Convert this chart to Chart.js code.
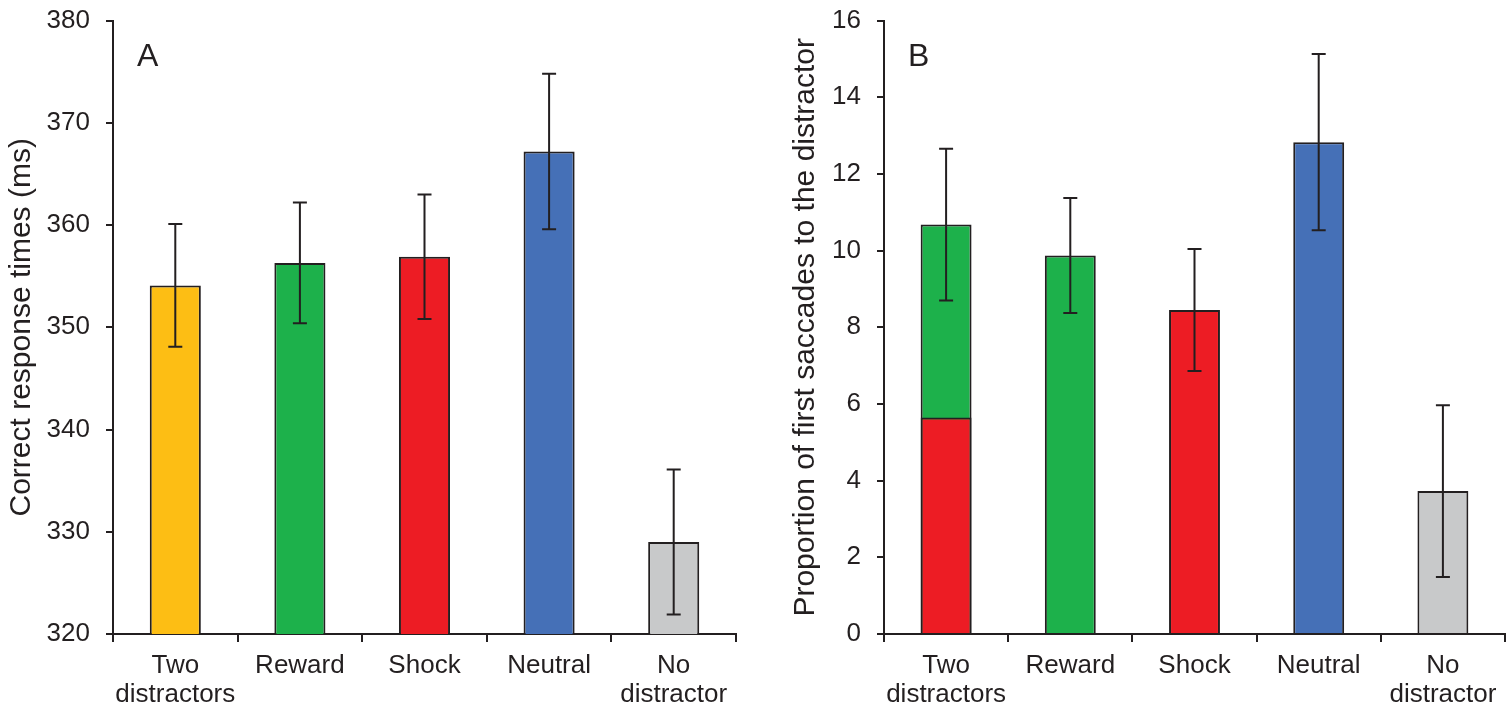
<!DOCTYPE html>
<html>
<head>
<meta charset="utf-8">
<script src="https://cdn.jsdelivr.net/npm/chart.js@4.4.1/dist/chart.umd.min.js"></script>
<style>
  html, body { margin: 0; padding: 0; background: #fff; overflow: hidden; }
  #wrap { position: relative; width: 1511px; height: 715px; overflow: hidden; }
  #rtChart { position: absolute; left: 0; top: -11px; }
  #saccChart { position: absolute; left: 770px; top: -11px; }
</style>
</head>
<body>
<div id="wrap">
  <canvas id="rtChart" width="770" height="726"></canvas>
  <canvas id="saccChart" width="741" height="726"></canvas>
</div>
<script>
// categories shared by both panels
const categories = [['Two', 'distractors'], 'Reward', 'Shock', 'Neutral', ['No', 'distractor']];

// panel A: correct response times (ms)
const rtMeans = [354.1, 356.3, 356.9, 367.2, 329.0];
const rtErr = [6.0, 5.9, 6.1, 7.6, 7.1];
const rtColors = ['#FDBE14', '#1DB14B', '#ED1C24', '#4570B7', '#C8C9CA'];

// panel B: proportion of first saccades to the distractor
const saccTotal = [10.68, 9.87, 8.45, 12.83, 3.73];
const saccColors = ['#1DB14B', '#1DB14B', '#ED1C24', '#4570B7', '#C8C9CA'];
const saccShockPart = [5.65, null, null, null, null];   // shock share of the two-distractor bar
const saccErr = [1.98, 1.50, 1.59, 2.30, 2.24];

const ink = '#231F20';
const fontFam = '"Liberation Sans", Arial, sans-serif';

const errorBars = {
    id: 'errorBars',
    afterDatasetsDraw(chart, args, opts) {
        const ctx = chart.ctx;
        const y = chart.scales.y;
        const meta = chart.getDatasetMeta(chart.data.datasets.length - 1);
        ctx.save();
        ctx.strokeStyle = ink;
        ctx.lineWidth = 2;
        opts.errs.forEach((e, i) => {
            const m = opts.means[i];
            const x = meta.data[i].x;
            const yHi = y.getPixelForValue(m + e);
            const yLo = y.getPixelForValue(m - e);
            ctx.beginPath();
            ctx.moveTo(x, yHi); ctx.lineTo(x, yLo);
            ctx.moveTo(x - 7, yHi); ctx.lineTo(x + 7, yHi);
            ctx.moveTo(x - 7, yLo); ctx.lineTo(x + 7, yLo);
            ctx.stroke();
        });
        ctx.restore();
    }
};

const panelLabel = {
    id: 'panelLabel',
    afterDraw(chart, args, opts) {
        const ctx = chart.ctx;
        ctx.save();
        ctx.fillStyle = ink;
        ctx.font = '32px ' + fontFam;
        ctx.textBaseline = 'alphabetic';
        ctx.fillText(opts.text, chart.chartArea.left + 24, chart.chartArea.top + 45);
        ctx.restore();
    }
};

function makeOptions(yMin, yMax, step, yTitle, yWidth, titlePad, padRight, label, means, errs) {
    return {
        responsive: false,
        animation: false,
        layout: { padding: { top: 10, right: padRight, left: 0, bottom: 0 } },
        plugins: {
            legend: { display: false },
            tooltip: { enabled: false },
            errorBars: { means: means, errs: errs },
            panelLabel: { text: label }
        },
        scales: {
            x: {
                grid: { offset: true, drawOnChartArea: false, drawTicks: true, tickLength: 8, color: ink, lineWidth: 2 },
                border: { display: true, color: ink, width: 2 },
                ticks: { color: ink, font: { family: fontFam, size: 26, lineHeight: 1.12 }, padding: 9, maxRotation: 0, autoSkip: false },
                afterFit(s) { s.height = 81; }
            },
            y: {
                min: yMin, max: yMax,
                grid: { drawOnChartArea: false, drawTicks: true, tickLength: 7, color: ink, lineWidth: 2 },
                border: { display: true, color: ink, width: 2 },
                ticks: { stepSize: step, color: ink, font: { family: fontFam, size: 26 }, padding: 16 },
                title: { display: true, text: yTitle, color: ink, font: { family: fontFam, size: 30 }, padding: { top: titlePad, bottom: 0 } },
                afterFit(s) { s.width = yWidth; }
            }
        }
    };
}

new Chart(document.getElementById('rtChart'), {
    type: 'bar',
    data: {
        labels: categories,
        datasets: [{
            data: rtMeans,
            backgroundColor: rtColors,
            borderColor: ink, borderWidth: 2, borderSkipped: 'start',
            categoryPercentage: 1, barPercentage: 0.41
        }]
    },
    options: makeOptions(320, 380, 10, 'Correct response times (ms)', 113, 4, 34, 'A', rtMeans, rtErr),
    plugins: [errorBars, panelLabel]
});

new Chart(document.getElementById('saccChart'), {
    type: 'bar',
    data: {
        labels: categories,
        datasets: [{
            // drawn on top of the full bar
            data: saccShockPart,
            backgroundColor: '#ED1C24',
            borderColor: ink, borderWidth: 2, borderSkipped: 'start', inflateAmount: 0,
            grouped: false, categoryPercentage: 1, barPercentage: 0.41
        }, {
            data: saccTotal,
            backgroundColor: saccColors,
            borderColor: ink, borderWidth: 2, borderSkipped: 'start', inflateAmount: 0,
            grouped: false, categoryPercentage: 1, barPercentage: 0.41
        }]
    },
    options: makeOptions(0, 16, 2, 'Proportion of first saccades to the distractor', 114, 18, 6, 'B', saccTotal, saccErr),
    plugins: [errorBars, panelLabel]
});
</script>
</body>
</html>
